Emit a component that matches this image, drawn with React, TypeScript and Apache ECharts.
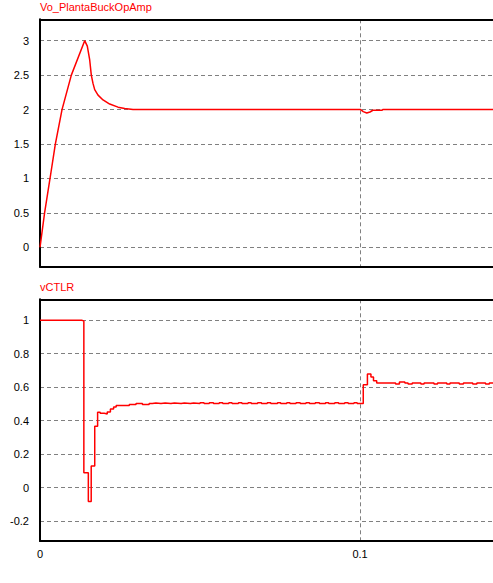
import React, { useEffect, useRef } from "react";
import * as echarts from "echarts";

// Time axis (seconds)
const X_MIN = 0;
const X_MAX = 0.1431;
const X_TICKS = [0, 0.1];

// Vo_PlantaBuckOpAmp : [time, value]
const voRise: [number, number][] = [
  [0, 0], [0.00146, 0.51], [0.00313, 1.0], [0.00479, 1.5], [0.00688, 2.0],
  [0.00979, 2.5], [0.01396, 3.0],
];
const voFall: [number, number][] = [
  [0.01478, 2.92], [0.01553, 2.72], [0.01603, 2.5], [0.01656, 2.38], [0.01709, 2.29],
  [0.01813, 2.21], [0.01969, 2.14], [0.02178, 2.08], [0.02438, 2.035], [0.02647, 2.015],
  [0.02906, 2.0],
];
const voDip: [number, number][] = [
  [0.1002, 2.0], [0.101, 1.97], [0.1021, 1.95], [0.1031, 1.965], [0.104, 1.99],
  [0.1068, 1.99], [0.1071, 2.0], [0.1431, 2.0],
];

// vCTLR : [time, new value] (step changes)
const ctlStart: [number, number][] = [
  [0, 1.0], [0.013, 0.996], [0.0137, 0.089], [0.0151, -0.083], [0.016, 0.129],
  [0.0171, 0.367], [0.018, 0.45], [0.0188, 0.444], [0.0201, 0.44], [0.021, 0.452],
  [0.022, 0.47], [0.023, 0.482], [0.0238, 0.49], [0.0279, 0.496], [0.03, 0.502],
  [0.032, 0.496], [0.0341, 0.502], [0.0351, 0.506], [0.0362, 0.502], [0.0378, 0.506],
  [0.0391, 0.502], [0.0409, 0.506], [0.042, 0.502], [0.0441, 0.506], [0.0451, 0.502],
  [0.047, 0.506], [0.048, 0.502],
];
const ctlSettled: [number, number][] = [
  [0.05, 0.507], [0.05125, 0.502], [0.0529, 0.507], [0.0542, 0.502], [0.056, 0.507],
  [0.0571, 0.502], [0.059, 0.507], [0.06, 0.502], [0.062, 0.507], [0.0631, 0.502],
  [0.065, 0.507], [0.066, 0.502], [0.068, 0.507], [0.0692, 0.502], [0.071, 0.507],
  [0.0721, 0.502], [0.0742, 0.507], [0.0752, 0.502], [0.0771, 0.507], [0.0781, 0.502],
  [0.08, 0.507], [0.0813, 0.502], [0.0831, 0.507], [0.0842, 0.502], [0.086, 0.507],
  [0.0873, 0.502], [0.0892, 0.507], [0.0902, 0.502], [0.0921, 0.507], [0.0933, 0.502],
  [0.0952, 0.507], [0.0963, 0.502], [0.0981, 0.507], [0.0991, 0.502],
];
const ctlStep: [number, number][] = [
  [0.101, 0.615], [0.1023, 0.679], [0.1034, 0.661], [0.1042, 0.639], [0.1052, 0.625],
  [0.1111, 0.619], [0.1123, 0.631], [0.114, 0.625], [0.115, 0.619], [0.1163, 0.625],
  [0.119, 0.619], [0.12, 0.625], [0.1231, 0.619], [0.1242, 0.625], [0.1271, 0.619],
  [0.1281, 0.625], [0.131, 0.619], [0.1323, 0.625], [0.1352, 0.619], [0.1365, 0.625],
  [0.1392, 0.619], [0.1404, 0.625], [0.1431, 0.625],
];

const TOP_Y_RANGE = [-0.28, 3.31];
const BOT_Y_RANGE = [-0.319, 1.125];

const FONT = "'Liberation Sans', Arial, sans-serif";

export default function App() {
  const ref = useRef<HTMLDivElement>(null);
  useEffect(() => {
    if (!ref.current) return;
    const chart = echarts.init(ref.current, undefined, { renderer: "svg" });
    const xBase = (gridIndex: number, labels: boolean) => ({
      type: "value",
      gridIndex,
      min: X_MIN,
      max: X_MAX,
      interval: X_TICKS[1] - X_TICKS[0],
      axisLine: { show: true, onZero: false, lineStyle: { color: "#000000", width: 2 } },
      axisTick: { show: false },
      axisLabel: { show: labels, color: "#000", fontSize: 11, fontFamily: FONT, margin: 7, showMaxLabel: false },
      splitLine: { show: true, showMinLine: false, showMaxLine: false, lineStyle: { color: "#808080", type: [4, 3], width: 1 } },
    });
    const xTop = (gridIndex: number) => ({
      type: "value",
      gridIndex,
      position: "top",
      min: X_MIN,
      max: X_MAX,
      axisLine: { show: true, onZero: false, lineStyle: { color: "#000000", width: 2 } },
      axisTick: { show: false },
      axisLabel: { show: false },
      splitLine: { show: false },
    });
    const yBase = (gridIndex: number, range: number[]) => ({
      type: "value",
      gridIndex,
      min: range[0],
      max: range[1],
      splitNumber: 7,
      axisLine: { show: true, onZero: false, lineStyle: { color: "#000000", width: 2 } },
      axisTick: { show: false },
      axisLabel: { color: "#000", fontSize: 11, fontFamily: FONT, margin: 11, showMinLabel: false, showMaxLabel: false },
      splitLine: { show: true, showMinLine: false, showMaxLine: false, lineStyle: { color: "#808080", type: [4, 3], width: 1 } },
    });
    const titleStyle = () => ({ fontSize: 11, color: "#ff0000", fontWeight: "normal", fontFamily: FONT });
    chart.setOption({
      animation: false,
      backgroundColor: "#fff",
      title: [
        { text: "Vo_PlantaBuckOpAmp", left: 40, top: 1, padding: 0, textStyle: titleStyle() },
        { text: "vCTLR", left: 40, top: 281, padding: 0, textStyle: titleStyle() },
      ],
      grid: [
        { left: 40, right: -5, top: 19.3, height: 247.4, outerBoundsMode: "none", containLabel: false },
        { left: 40, right: -5, top: 299.3, height: 241.7, outerBoundsMode: "none", containLabel: false },
      ],
      xAxis: [xBase(0, false), xTop(0), xBase(1, true), xTop(1)],
      yAxis: [yBase(0, TOP_Y_RANGE), yBase(1, BOT_Y_RANGE)],
      series: [
        { type: "line", xAxisIndex: 0, yAxisIndex: 0, data: [...voRise, ...voFall, ...voDip], showSymbol: false, lineStyle: { color: "#ff0000", width: 1.5 } },
        { type: "line", xAxisIndex: 2, yAxisIndex: 1, step: "end", data: [...ctlStart, ...ctlSettled, ...ctlStep], showSymbol: false, lineStyle: { color: "#ff0000", width: 1.5 } },
      ],
    });
    return () => chart.dispose();
  }, []);
  return <div ref={ref} style={{ position: "fixed", left: 0, top: 0, width: 493, height: 583 }} />;
}
